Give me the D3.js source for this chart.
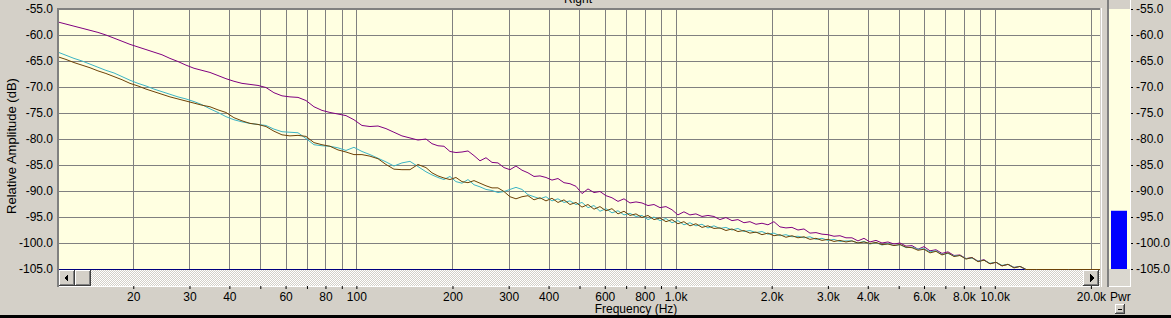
<!DOCTYPE html>
<meta charset="utf-8">
<style>
body{margin:0;background:#d4d0c8;overflow:hidden;}
svg{display:block;font-family:"Liberation Sans",Arial,sans-serif;}
</style>
<script src="https://cdn.jsdelivr.net/npm/d3@7"></script>
<body>
<script>

var width = 1171, height = 318
var pLeft = 58, pRight = 1100, pTop = 9, pBottom = 269

// axis ticks
var gridFreqs = [20,30,40,50,60,70,80,90,100,200,300,400,500,600,700,800,900,
  1000,2000,3000,4000,5000,6000,7000,8000,9000,10000,20000]
var labelFreqs = [20,30,40,60,80,100,200,300,400,600,800,1000,2000,3000,4000,6000,8000,10000,20000]
var labelText = ["20","30","40","60","80","100","200","300","400","600","800",
  "1.0k","2.0k","3.0k","4.0k","6.0k","8.0k","10.0k","20.0k"]
var dbTicks = [-55,-60,-65,-70,-75,-80,-85,-90,-95,-100,-105]
var powerLevel = -93.8

// spectrum (Hz / dB)
var freqs = [11.62,12.31,13.04,13.82,14.64,15.5,16.42,17.4,18.44,19.53,
  20.69,21.92,23.22,24.6,26.06,27.61,29.26,31.0,32.83,34.78,
  36.85,39.03,41.35,43.81,46.41,49.17,52.09,55.18,58.47,61.93,
  65.62,69.51,73.64,78.03,82.65,87.57,92.78,98.27,104.1,110.3,
  116.9,123.8,131.1,138.9,147.2,155.9,165.2,
  172.5,180.1,188.1,196.4,205.1,214.2,223.7,233.6,243.9,254.7,
  266.0,277.7,290.0,302.8,316.2,330.2,344.8,360.1,376.0,392.6,
  410.0,428.1,447.1,466.8,487.5,509.1,531.6,555.1,579.6,605.3,
  632.0,660.0,689.2,719.7,751.5,784.7,819.4,855.7,893.5,933.0,
  974.3,1017,1062,1109,1158,1210,1263,1319,1377,1438,
  1502,1568,1637,1710,1786,1865,1947,2033,2123,2217,
  2315,2418,2525,2636,2753,2875,3002,3135,3273,3418,
  3569,3727,3892,4064,4244,4432,4628,4833,5047,5270,
  5503,5747,6001,6266,6543,6833,7135,7451,7780,8124,
  8484,8859,9251,9660,10087,10533,11000,11486,11994,12525,
  13500,17000,22000]

var purple = [-57.5,-57.9,-58.3,-58.7,-59.1,-59.5,-60.0,-60.6,-61.2,-61.8,
  -62.3,-62.8,-63.3,-63.8,-64.5,-65.1,-65.8,-66.4,-66.8,-67.2,
  -67.8,-68.4,-68.9,-69.3,-69.5,-69.7,-70.1,-71.1,-71.7,-71.9,
  -72.0,-72.6,-73.8,-74.5,-74.9,-75.2,-75.5,-76.3,-77.4,-77.6,
  -77.5,-78.0,-78.7,-79.4,-79.8,-80.2,-80.0,
  -80.9,-81.3,-81.4,-82.4,-82.6,-82.5,-82.3,-83.2,-84.2,-83.6,
  -84.5,-84.6,-85.5,-85.9,-85.2,-86.0,-86.5,-87.2,-87.1,-87.4,
  -87.9,-87.6,-88.4,-88.6,-89.1,-90.5,-89.6,-90.3,-90.1,-90.9,
  -91.3,-92.0,-91.5,-92.3,-92.1,-92.3,-92.8,-92.6,-93.2,-93.0,
  -93.6,-94.6,-94.0,-94.6,-94.4,-94.9,-94.7,-94.9,-95.5,-95.1,
  -95.7,-95.5,-96.1,-95.9,-96.4,-96.2,-96.5,-95.9,-96.9,-97.1,
  -97.0,-97.5,-97.3,-98.1,-98.0,-98.3,-98.4,-98.7,-98.6,-99.0,
  -99.0,-99.6,-99.1,-99.8,-99.5,-100.0,-99.8,-100.2,-100.0,-100.6,
  -100.5,-101.2,-100.7,-101.5,-101.3,-102.0,-101.7,-102.4,-102.3,-103.0,
  -102.8,-103.5,-103.2,-104.0,-103.7,-104.4,-104.1,-104.7,-104.5,-105.4,
  -106,-106,-106]

var cyan = [-63.3,-63.9,-64.5,-65.0,-65.6,-66.2,-66.8,-67.3,-68.0,-68.7,
  -69.3,-69.8,-70.4,-70.9,-71.4,-71.9,-72.3,-72.8,-73.4,-74.2,
  -74.9,-75.7,-76.3,-76.7,-77.0,-77.2,-77.4,-78.1,-78.6,-78.7,
  -78.8,-79.9,-81.1,-81.3,-81.4,-81.7,-82.2,-81.6,-82.4,-83.0,
  -83.7,-84.4,-85.2,-84.6,-84.3,-85.3,-86.3,
  -86.9,-87.4,-87.8,-87.2,-88.2,-88.5,-87.8,-88.8,-89.2,-89.7,
  -89.9,-90.3,-90.1,-89.7,-89.3,-89.7,-90.7,-91.1,-91.5,-91.1,
  -91.9,-91.5,-92.2,-91.9,-92.6,-92.2,-93.2,-92.8,-93.9,-93.4,
  -94.2,-93.8,-94.6,-94.3,-94.9,-94.7,-95.5,-95.0,-95.7,-95.3,
  -96.1,-95.7,-96.5,-96.1,-96.7,-96.4,-97.1,-96.7,-97.2,-97.0,
  -97.5,-97.2,-97.8,-97.6,-98.0,-97.8,-98.3,-98.1,-98.6,-98.4,
  -98.8,-98.7,-99.0,-98.8,-99.3,-99.1,-99.5,-99.3,-99.7,-99.6,
  -99.6,-100.0,-99.7,-100.2,-99.9,-100.4,-100.1,-100.5,-100.3,-100.9,
  -100.8,-101.2,-101.1,-101.7,-101.5,-102.2,-102.0,-102.5,-102.4,-103.0,
  -102.9,-103.5,-103.3,-103.9,-103.7,-104.3,-104.1,-104.7,-104.5,-105.4,
  -106,-106,-106]

var brown = [-64.2,-64.7,-65.3,-65.8,-66.3,-66.9,-67.4,-68.0,-68.6,-69.3,
  -69.8,-70.4,-70.9,-71.4,-71.9,-72.3,-72.7,-73.1,-73.5,-73.8,
  -74.4,-74.9,-75.9,-76.5,-77.0,-77.2,-77.6,-78.5,-79.2,-79.4,
  -79.3,-79.5,-80.7,-81.1,-81.4,-82.1,-82.5,-83.0,-83.0,-83.3,
  -83.8,-84.9,-85.8,-85.9,-85.9,-84.9,-85.5,
  -86.5,-87.1,-87.5,-87.8,-87.4,-88.2,-88.4,-88.0,-88.5,-89.0,
  -89.4,-89.4,-90.1,-91.1,-91.5,-91.1,-90.9,-91.7,-91.3,-91.9,
  -91.4,-92.2,-91.7,-92.6,-92.2,-93.1,-92.6,-93.5,-93.0,-93.8,
  -93.4,-94.4,-93.9,-94.7,-94.4,-95.1,-94.7,-95.5,-95.2,-95.9,
  -95.5,-96.3,-95.9,-96.7,-96.3,-97.0,-96.7,-97.2,-97.1,-97.6,
  -97.3,-97.8,-97.6,-98.1,-97.9,-98.4,-98.1,-98.6,-98.4,-98.9,
  -98.6,-99.0,-98.8,-99.3,-99.1,-99.5,-99.3,-99.7,-99.5,-99.8,
  -99.6,-100.0,-99.8,-100.1,-99.9,-100.3,-100.2,-100.5,-100.3,-100.8,
  -100.9,-101.4,-101.2,-101.9,-101.6,-102.3,-101.9,-102.6,-102.4,-103.1,
  -102.8,-103.6,-103.3,-104.0,-103.7,-104.4,-104.1,-104.8,-104.5,-105.4,
  -106,-106,-106]

var series = [
  {values: purple, color: "#800080"},
  {values: cyan, color: "#3cb4c4"},
  {values: brown, color: "#6e4206"}
]

var svg = d3.select("body").append("svg").attr("width", width).attr("height", height)

var x = d3.scaleLog().domain([11.62, 21360]).range([pLeft, pRight])
var y = d3.scaleLinear().domain([-55, -105]).range([pTop, pBottom])

var defs = svg.append("defs")
var pat = defs.append("pattern").attr("id","hatch").attr("width",2).attr("height",2)
  .attr("patternUnits","userSpaceOnUse")
pat.append("rect").attr("width",2).attr("height",2).attr("fill","#d4d0c8")
pat.append("rect").attr("width",1).attr("height",1).attr("fill","#fff")
pat.append("rect").attr("x",1).attr("y",1).attr("width",1).attr("height",1).attr("fill","#fff")
defs.append("clipPath").attr("id","clip").append("rect")
  .attr("x",pLeft).attr("y",pTop).attr("width",pRight-pLeft).attr("height",pBottom-pTop+1)

// plot background
svg.append("rect").attr("x",pLeft).attr("y",pTop).attr("width",pRight-pLeft).attr("height",pBottom-pTop)
  .attr("fill","#ffffe1")

// grid
var grid = svg.append("g").attr("stroke","#808080").attr("shape-rendering","crispEdges")
grid.selectAll(".h").data(dbTicks).enter().append("line")
  .attr("x1",pLeft).attr("x2",pRight)
  .attr("y1",d=>Math.round(y(d))+0.5).attr("y2",d=>Math.round(y(d))+0.5)
grid.selectAll(".v").data(gridFreqs).enter().append("line")
  .attr("y1",pTop).attr("y2",pBottom)
  .attr("x1",d=>Math.round(x(d))+0.5).attr("x2",d=>Math.round(x(d))+0.5)

// scroll bar
svg.append("rect").attr("x",pLeft+1).attr("y",270).attr("width",pRight-pLeft-1).attr("height",16)
  .attr("fill","url(#hatch)")
svg.append("line").attr("x1",pLeft).attr("x2",pRight).attr("y1",286.5).attr("y2",286.5)
  .attr("stroke","#fff")

function button(x0, y0, w, h) {
  var g = svg.append("g").attr("shape-rendering","crispEdges")
  g.append("rect").attr("x",x0).attr("y",y0).attr("width",w).attr("height",h).attr("fill","#404040")
  g.append("rect").attr("x",x0).attr("y",y0).attr("width",w-1).attr("height",h-1).attr("fill","#fff")
  g.append("rect").attr("x",x0+1).attr("y",y0+1).attr("width",w-2).attr("height",h-2).attr("fill","#808080")
  g.append("rect").attr("x",x0+1).attr("y",y0+1).attr("width",w-3).attr("height",h-3).attr("fill","#d4d0c8")
  return g
}
button(59,270,16,16).append("path").attr("d","M64,278 L68,274 L68,282 Z").attr("fill","#000")
button(75,270,16,16)
button(1083,270,16,16).append("path").attr("d","M1094,278 L1090,274 L1090,282 Z").attr("fill","#000")

// bottom line of plot
svg.append("line").attr("x1",pLeft).attr("x2",pRight).attr("y1",269.5).attr("y2",269.5)
  .attr("stroke","#000080")

// data
var line = d3.line()
  .x((d,i)=>x(freqs[i]))
  .y(d=>y(Math.max(d,-105.1)))

svg.append("g").attr("clip-path","url(#clip)")
  .selectAll("path").data(series).enter().append("path")
  .attr("d",d=>line(d.values))
  .attr("fill","none")
  .attr("stroke",d=>d.color)
  .attr("stroke-width",1)

// frame
svg.append("rect").attr("x",57).attr("y",8).attr("width",pRight-57).attr("height",2).attr("fill","#808080")
svg.append("rect").attr("x",57).attr("y",8).attr("width",2).attr("height",279).attr("fill","#808080")
svg.append("rect").attr("x",1101).attr("y",8).attr("width",1).attr("height",279).attr("fill","#fff")

// axes
var xAxis = d3.axisBottom(x).tickValues(gridFreqs).tickSize(3).tickPadding(3)
  .tickFormat(d=>{var k = labelFreqs.indexOf(d); return k<0 ? "" : labelText[k]})
var gx = svg.append("g").attr("transform","translate(0,286)").call(xAxis)
gx.select(".domain").remove()
gx.selectAll("line").attr("stroke","#000")

var yAxis = d3.axisLeft(y).tickValues(dbTicks).tickSize(0).tickPadding(5).tickFormat(d=>d.toFixed(1))
var gy = svg.append("g").attr("transform","translate("+pLeft+",0)").call(yAxis)
gy.select(".domain").remove()

var yAxisR = d3.axisRight(y).tickValues(dbTicks).tickSize(3).tickPadding(3).tickFormat(d=>d.toFixed(1))
var gr = svg.append("g").attr("transform","translate(1130,0)").call(yAxisR)
gr.select(".domain").remove()
gr.selectAll("line").attr("stroke","#000")

svg.selectAll(".tick text").attr("font-size",12).attr("font-family","Liberation Sans, Arial, sans-serif").attr("fill","#000")

// power meter
svg.append("rect").attr("x",1107).attr("y",0).attr("width",2).attr("height",287).attr("fill","#808080")
svg.append("rect").attr("x",1109).attr("y",pTop).attr("width",21).attr("height",pBottom-pTop).attr("fill","#ffffe1")
svg.append("rect").attr("x",1109).attr("y",pBottom).attr("width",21).attr("height",17).attr("fill","#dad7cf")
svg.append("rect").attr("x",1130).attr("y",0).attr("width",1).attr("height",287).attr("fill","#fff")
svg.append("rect").attr("x",1109).attr("y",286).attr("width",22).attr("height",1).attr("fill","#fff")
svg.append("rect").attr("x",1111).attr("y",y(powerLevel)).attr("width",16)
  .attr("height",y(-105)-y(powerLevel)).attr("fill","#0000ff")
button(1115,304,10,10).append("rect").attr("x",1118).attr("y",309).attr("width",4).attr("height",1).attr("fill","#000")

// titles
svg.append("text").attr("transform","translate(16,146) rotate(-90)").attr("text-anchor","middle")
  .attr("font-size",13).text("Relative Amplitude (dB)")
svg.append("text").attr("x",636).attr("y",313).attr("text-anchor","middle").attr("font-size",12)
  .text("Frequency (Hz)")
svg.append("text").attr("x",578).attr("y",3).attr("text-anchor","middle").attr("font-size",12)
  .text("Right")
svg.append("text").attr("x",1110).attr("y",300.5).attr("font-size",12).text("Pwr")

svg.append("rect").attr("x",0).attr("y",315).attr("width",width).attr("height",3).attr("fill","#000")

</script>
